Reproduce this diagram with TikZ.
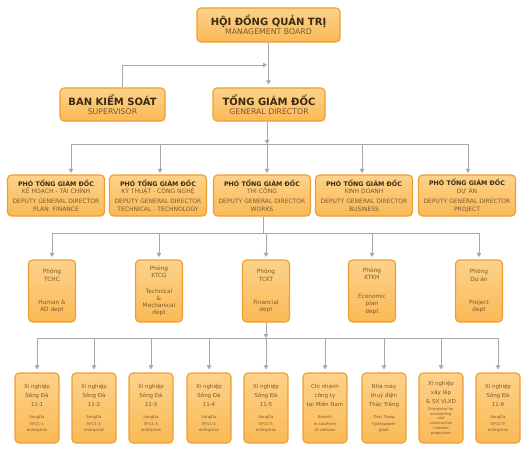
\documentclass[tikz,border=0pt]{standalone}
\usepackage{fontspec}
\setmainfont{DejaVu Sans}
\usetikzlibrary{arrows.meta}
\definecolor{boxline}{HTML}{EE9E32}
\definecolor{boxtop}{HTML}{FDD28A}
\definecolor{boxbot}{HTML}{FAB956}
\definecolor{linegray}{HTML}{A6A6AE}
\definecolor{darktxt}{HTML}{3A2A12}
\definecolor{subtxt}{HTML}{7A5A2E}
\newcommand\myfs[2]{\fontsize{#1}{#2}\selectfont}
\tikzset{
  box/.style={draw=boxline, line width=1.1pt, rounded corners=4pt,
    top color=boxtop, bottom color=boxbot, inner sep=0pt, align=flush center, text=subtxt},
  bigbox/.style={box, minimum height=34pt},
  depbox/.style={box, minimum width=97pt, minimum height=41pt, text width=97pt},
  deptbox/.style={box, minimum width=47pt, minimum height=62pt, text width=47pt},
  entbox/.style={box, minimum width=44pt, minimum height=70pt, text width=44pt},
  conn/.style={draw=linegray, line width=0.8pt},
  arrowconn/.style={-{Triangle[width=4.5pt,length=4pt]}, shorten >=1.5pt},
}
\newcommand\deputy[2]{%
  {\myfs{6.3}{7.5}\bfseries\color{darktxt}PHÓ TỔNG GIÁM ĐỐC\par}%
  {\myfs{6}{7.5}#1\par}\vspace{2pt}{\myfs{6}{8}DEPUTY GENERAL DIRECTOR\par}{\myfs{6}{8}#2\par}}
\newcommand\dept[3]{{\myfs{5.8}{7.2}#1\par}\vspace{#3}{\myfs{5.8}{7.2}#2\par}}
\newcommand\ent[2]{{\myfs{5.5}{9}#1\par}\vspace{6pt}{\myfs{3.9}{6.4}#2\par}}
\begin{document}
\begin{tikzpicture}[x=1pt,y=-1pt]
\fill[white] (0,0) rectangle (527,450);
\useasboundingbox (0,0) rectangle (527,450);

% top levels
\node[bigbox, minimum width=143pt, text width=143pt] (hd) at (268.5,25)
  {{\myfs{10}{12}\bfseries\color{darktxt}HỘI ĐỒNG QUẢN TRỊ\par}{\myfs{7.8}{9}MANAGEMENT BOARD\par}};
\node[bigbox, minimum width=105pt, text width=105pt, minimum height=33pt] (ban) at (112.5,104.5)
  {{\myfs{10}{12}\bfseries\color{darktxt}BAN KIỂM SOÁT\par}{\myfs{7.8}{9}SUPERVISOR\par}};
\node[bigbox, minimum width=112pt, text width=112pt, minimum height=33pt] (tgd) at (269,104.5)
  {{\myfs{10}{12}\bfseries\color{darktxt}TỔNG GIÁM ĐỐC\par}{\myfs{7.8}{9}GENERAL DIRECTOR\par}};

% deputies
\node[depbox] (d1) at (56,195.5) {\deputy{KẾ HOẠCH - TÀI CHÍNH}{PLAN \ FINANCE}};
\node[depbox] (d2) at (158,195.5) {\deputy{KỸ THUẬT - CÔNG NGHỆ}{TECHNICAL - TECHNOLOGY}};
\node[depbox] (d3) at (262,195.5) {\deputy{THI CÔNG}{WORKS}};
\node[depbox] (d4) at (364,195.5) {\deputy{KINH DOANH}{BUSINESS}};
\node[depbox] (d5) at (467,195.5) {\deputy{DỰ ÁN}{PROJECT}};

% departments
\node[deptbox] (p1) at (52,291) {\dept{Phòng\\TCHC}{Human \&\\AD dept}{16pt}};
\node[deptbox] (p2) at (159,291) {\dept{Phòng\\KTCG}{Technical\\\&\\Mechanical\\dept}{8pt}};
\node[deptbox] (p3) at (266,291) {\dept{Phòng\\TCKT}{Financial\\dept}{16pt}};
\node[deptbox] (p4) at (372,291) {\dept{Phòng\\KTKH}{Economic\\plan\\dept}{12pt}};
\node[deptbox] (p5) at (479,291) {\dept{Phòng\\Dự án}{Project\\dept}{16pt}};

% enterprises
\node[entbox] (e1) at (37,408) {\ent{Xí nghiệp\\Sông Đà\\11-1}{SongDa\\Nº11-1\\enterprise}};
\node[entbox] (e2) at (94,408) {\ent{Xí nghiệp\\Sông Đà\\11-2}{SongDa\\Nº11-2\\enterprise}};
\node[entbox] (e3) at (151,408) {\ent{Xí nghiệp\\Sông Đà\\11-3}{SongDa\\Nº11-3\\enterprise}};
\node[entbox] (e4) at (209,408) {\ent{Xí nghiệp\\Sông Đà\\11-4}{SongDa\\Nº11-4\\enterprise}};
\node[entbox] (e5) at (266,408) {\ent{Xí nghiệp\\Sông Đà\\11-5}{SongDa\\Nº11-5\\enterprise}};
\node[entbox] (e6) at (325,408) {\ent{Chi nhánh\\công ty\\tại Miền Nam}{Branch\\in southern\\of vietnam}};
\node[entbox] (e7) at (384,408) {\ent{Nhà máy\\thuỷ điện\\Thác Trắng}{Thac Trang\\hydropower\\plant}};
\node[entbox] (e8) at (441,408) {{\myfs{5.5}{9}Xí nghiệp\\xây lắp\\\& SX VLXD\par}\vspace{2pt}{\myfs{3.7}{4.8}Enterprise for\\assembling\\and\\construction\\material\\production\par}};
\node[entbox] (e9) at (498,408) {\ent{Xí nghiệp\\Sông Đà\\11-9}{SongDa\\Nº11-9\\enterprise}};

% connectors: top
\coordinate (j0) at (122,65);
\coordinate (j1) at (267.5,65);
\draw[conn, arrowconn, shorten >=0.5pt] (j0 |- ban.north) -- (j0) -- (j1);
\draw[conn, arrowconn, shorten >=3pt] (hd.south) -- (hd.south |- tgd.north);

% bus 1
\coordinate (b1) at (267,144);
\draw[conn, arrowconn, shorten >=0pt] (b1 |- tgd.south) -- (b1);
\coordinate (a1) at (71,144);
\coordinate (a2) at (160,144);
\coordinate (a3) at (267,144);
\coordinate (a4) at (362,144);
\coordinate (a5) at (468,144);
\draw[conn] (a1) -- (a5);
\foreach \a/\d in {a1/d1,a2/d2,a3/d3,a4/d4,a5/d5}
  \draw[conn, arrowconn] (\a) -- (\a |- \d.north);

% bus 2
\coordinate (b2) at (263,233);
\draw[conn] (b2 |- d3.south) -- (b2);
\draw[conn] (b2 -| p1.north) -- (b2 -| p5.north);
\foreach \p in {p1,p2,p3,p4,p5}
  \draw[conn, arrowconn, shorten >=2.5pt] (b2 -| \p.north) -- (\p.north);

% bus 3
\coordinate (b3) at (266,338);
\draw[conn, arrowconn, shorten >=0pt] (p3.south) -- (p3.south |- b3);
\draw[conn] (b3 -| e1.north) -- (b3 -| e9.north);
\foreach \e in {e1,e2,e3,e4,e5,e6,e7,e8,e9}
  \draw[conn, arrowconn, shorten >=3pt] (b3 -| \e.north) -- (\e.north);
\end{tikzpicture}
\end{document}
